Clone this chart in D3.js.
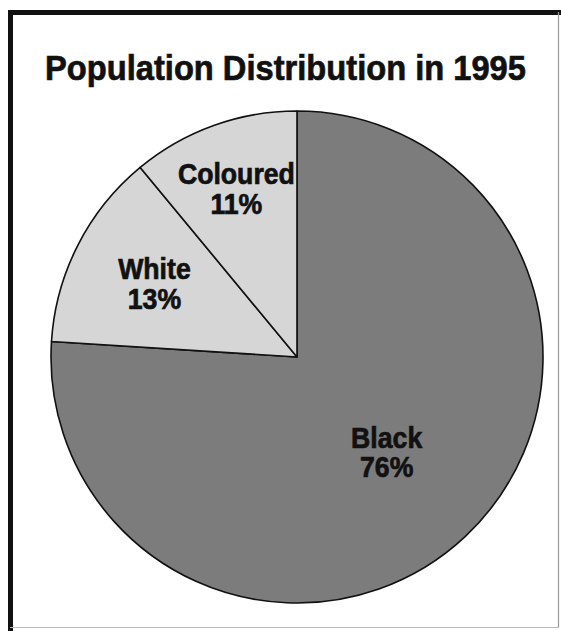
<!DOCTYPE html>
<html>
<head>
<meta charset="utf-8">
<script src="https://cdn.jsdelivr.net/npm/d3@7"></script>
<style>
  body { margin: 0; background: #fff; }
  svg { display: block; }
  text { font-family: "Liberation Sans", Arial, sans-serif; font-weight: bold; fill: #111; stroke: #111; stroke-width: 0.7; }
</style>
</head>
<body>
<svg id="chart"></svg>
<script>
// datos del grafico
const categories = ["Black", "White", "Coloured"];
const shares = [76, 13, 11];
const labels = ["76%", "13%", "11%"];
const title = "Population Distribution in 1995";

// configuracion
const width = 561;
const height = 631;
const cx = 297, cy = 357, radius = 246;
const fills = { Black: "#7c7c7c", White: "#d6d6d6", Coloured: "#d6d6d6" };
const labelRadius = { Black: 131, White: 160, Coloured: 179 };
const titleWidth = 481;
const colouredWidth = 117; // ancho de "Coloured" en la referencia

const svg = d3.select("#chart")
    .attr("width", width)
    .attr("height", height);

// marco: grueso arriba e izquierda, fino abajo y derecha
svg.append("line").attr("x1", 10).attr("y1", 12.5).attr("x2", 561).attr("y2", 12.5)
    .attr("stroke", "#111").attr("stroke-width", 5);
svg.append("line").attr("x1", 10.5).attr("y1", 10).attr("x2", 10.5).attr("y2", 631)
    .attr("stroke", "#111").attr("stroke-width", 5);
svg.append("line").attr("x1", 558.5).attr("y1", 12).attr("x2", 558.5).attr("y2", 628)
    .attr("stroke", "#999").attr("stroke-width", 1.2);
svg.append("line").attr("x1", 10).attr("y1", 627.5).attr("x2", 559).attr("y2", 627.5)
    .attr("stroke", "#bbb").attr("stroke-width", 1.2);

// titulo (letra condensada: escala horizontal)
const titleG = svg.append("g");
const titleText = titleG.append("text")
    .attr("x", 0)
    .attr("y", 0)
    .attr("text-anchor", "middle")
    .attr("font-size", 35)
    .text(title);
const sx = titleWidth / titleText.node().getComputedTextLength();
titleG.attr("transform", `translate(285.5,80) scale(${sx},1)`);

// pastel
const data = categories.map((c, i) => ({ name: c, value: shares[i], label: labels[i] }));
const pie = d3.pie().sort(null).value(d => d.value);
const arc = d3.arc().innerRadius(0).outerRadius(radius);

const g = svg.append("g").attr("transform", `translate(${cx},${cy})`);

g.selectAll("path")
    .data(pie(data))
    .join("path")
    .attr("d", arc)
    .attr("fill", d => fills[d.data.name])
    .attr("stroke", "#111")
    .attr("stroke-width", 1.6)
    .attr("stroke-linejoin", "round");

// etiquetas
const lbl = g.selectAll("g.lbl")
    .data(pie(data))
    .join("g")
    .attr("class", "lbl");

lbl.append("text")
    .attr("class", "name")
    .attr("y", -5)
    .attr("text-anchor", "middle")
    .attr("font-size", 29)
    .text(d => d.data.name);

lbl.append("text")
    .attr("y", 25)
    .attr("text-anchor", "middle")
    .attr("font-size", 29)
    .text(d => d.data.label);

const colNode = lbl.filter(d => d.data.name === "Coloured").select("text.name").node();
const lsx = colouredWidth / colNode.getComputedTextLength();

lbl.attr("transform", d => {
    const r = labelRadius[d.data.name];
    const c = d3.arc().innerRadius(r).outerRadius(r).centroid(d);
    return `translate(${c[0]},${c[1]}) scale(${lsx},1)`;
});
</script>
</body>
</html>
